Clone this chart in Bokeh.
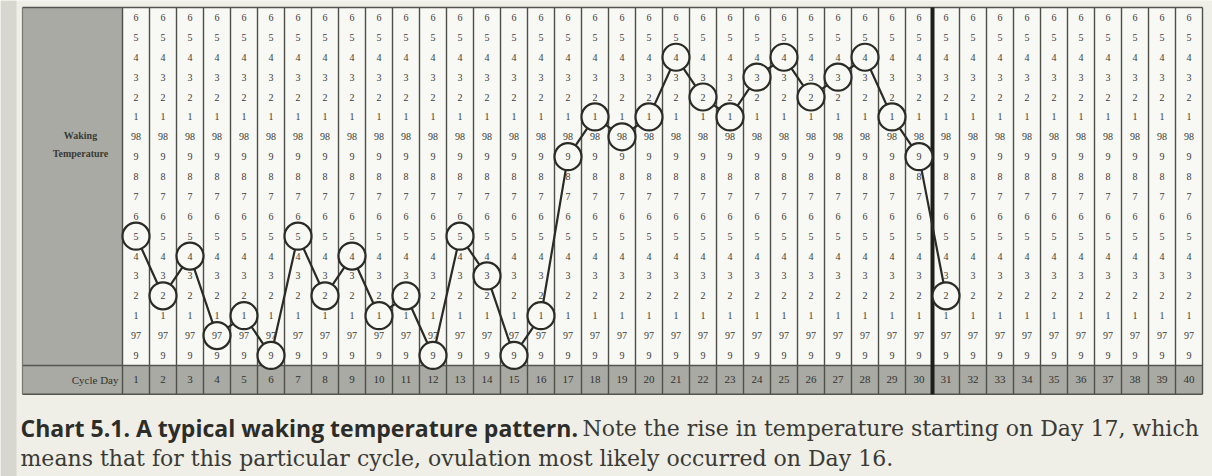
from bokeh.plotting import figure
from bokeh.models import Range1d, Label, ColumnDataSource
from bokeh.embed import file_html
from bokeh.resources import INLINE
from bokeh.core.properties import value

# ---------------- data ----------------
days = list(range(1, 32))
temps = [97.5, 97.2, 97.4, 97.0, 97.1, 96.9, 97.5, 97.2, 97.4, 97.1,
         97.2, 96.9, 97.5, 97.3, 96.9, 97.1, 97.9, 98.1, 98.0, 98.1,
         98.4, 98.2, 98.1, 98.3, 98.4, 98.2, 98.3, 98.4, 98.1, 97.9,
         97.2]
row_temps = [98.6, 98.5, 98.4, 98.3, 98.2, 98.1, 98.0, 97.9, 97.8,
             97.7, 97.6, 97.5, 97.4, 97.3, 97.2, 97.1, 97.0, 96.9]
row_labels = ["6", "5", "4", "3", "2", "1", "98", "9", "8",
              "7", "6", "5", "4", "3", "2", "1", "97", "9"]
cycle_days = list(range(1, 41))
line_day = 30.5  # coverline position (between day 30 and 31)
caption_bold = "Chart 5.1. A typical waking temperature pattern."
caption_rest1 = "Note the rise in temperature starting on Day 17, which"
caption_rest2 = "means that for this particular cycle, ovulation most likely occurred on Day 16."

# ---------------- layout ----------------
W, H = 1212, 476
PX_PER_DAY = 27.0
PX_PER_DEG = 198.8
X0 = -108.5 / PX_PER_DAY
X1 = X0 + W / PX_PER_DAY
Y1 = 98.6 + 17 / PX_PER_DEG
Y0 = Y1 - H / PX_PER_DEG


def px_x(px):
    return X0 + px / PX_PER_DAY


def px_y(py):
    return Y1 - py / PX_PER_DEG


PAGE = "#efeee7"
PANEL = "#a9aaa4"
GRIDBG = "#f8f8f4"
INK = "#2b2b26"

p = figure(width=W, height=H, x_range=Range1d(X0, X1), y_range=Range1d(Y0, Y1),
           output_backend="svg", toolbar_location=None, min_border=0)
p.axis.visible = False
p.grid.visible = False
p.outline_line_color = None
p.background_fill_color = PAGE
p.border_fill_color = PAGE

top = 98.65
grid_bottom = 96.85
row_bottom = 96.705
left = px_x(22)

# page edge shadow
p.quad(left=[X0], right=[px_x(16)], top=[Y1], bottom=[Y0], color="#d8d7cf", line_color=None)
# grid background
p.quad(left=[0.5], right=[40.5], top=[top], bottom=[grid_bottom], color=GRIDBG, line_color=None)
# label panel and cycle-day row
p.quad(left=[left], right=[0.5], top=[top], bottom=[grid_bottom], color=PANEL, line_color=None)
p.quad(left=[left], right=[40.5], top=[grid_bottom], bottom=[row_bottom], color=PANEL, line_color=None)

# column separators
xs = [d + 0.5 for d in range(0, 41)]
p.segment(x0=xs, y0=[row_bottom] * len(xs), x1=xs, y1=[top] * len(xs),
          line_color="#4f4f49", line_width=1.4)
# frame lines
p.segment(x0=[left, left, left], y0=[top, grid_bottom, row_bottom],
          x1=[40.5, 40.5, 40.5], y1=[top, grid_bottom, row_bottom],
          line_color="#55554f", line_width=1.5)
p.segment(x0=[left], y0=[row_bottom], x1=[left], y1=[top], line_color="#77776f", line_width=1.2)
# thick line
p.segment(x0=[line_day], y0=[row_bottom], x1=[line_day], y1=[top], line_color="#1f1f1a", line_width=4)

# temperature curve
p.line(days, temps, line_color=INK, line_width=2.2)
p.scatter(days, temps, size=27, marker="circle", fill_color=GRIDBG,
          line_color=INK, line_width=2.2)

# grid digits
gx, gy, gt = [], [], []
for d in cycle_days:
    for t, lab in zip(row_temps, row_labels):
        gx.append(d)
        gy.append(t)
        gt.append(lab)
src = ColumnDataSource(dict(x=gx, y=gy, text=gt))
p.text(x="x", y="y", text="text", source=src, text_align="center", text_baseline="middle",
       text_font=value("Liberation Serif"), text_font_size="10px", text_color="#3c3c37")

# cycle-day numbers
p.text(x=cycle_days, y=[(grid_bottom + row_bottom) / 2] * 40, text=[str(d) for d in cycle_days],
       text_align="center", text_baseline="middle", text_font=value("Liberation Serif"),
       text_font_size="11px", text_color="#33332e")

# labels
for txt, py in (("Waking", 135), ("Temperature", 153)):
    p.add_layout(Label(x=px_x(80), y=px_y(py), text=txt, text_align="center",
                       text_baseline="middle", text_font="Liberation Serif",
                       text_font_size="10px", text_font_style="bold", text_color="#3a3a35"))
p.add_layout(Label(x=px_x(118), y=(grid_bottom + row_bottom) / 2, text="Cycle Day",
                   text_align="right", text_baseline="middle", text_font="Liberation Serif",
                   text_font_size="11px", text_color="#33332e"))

# caption
p.add_layout(Label(x=px_x(20), y=px_y(427), text=caption_bold, text_align="left",
                   text_baseline="middle", text_font="Open Sans", text_font_style="bold",
                   text_font_size="23px", text_color="#2c2c28"))
p.add_layout(Label(x=px_x(582), y=px_y(428), text=caption_rest1, text_align="left",
                   text_baseline="middle", text_font="DejaVu Serif",
                   text_font_size="22px", text_color="#3a3a35"))
p.add_layout(Label(x=px_x(20), y=px_y(458), text=caption_rest2, text_align="left",
                   text_baseline="middle", text_font="DejaVu Serif",
                   text_font_size="22px", text_color="#3a3a35"))

open("out.html", "w").write(file_html(p, INLINE))
